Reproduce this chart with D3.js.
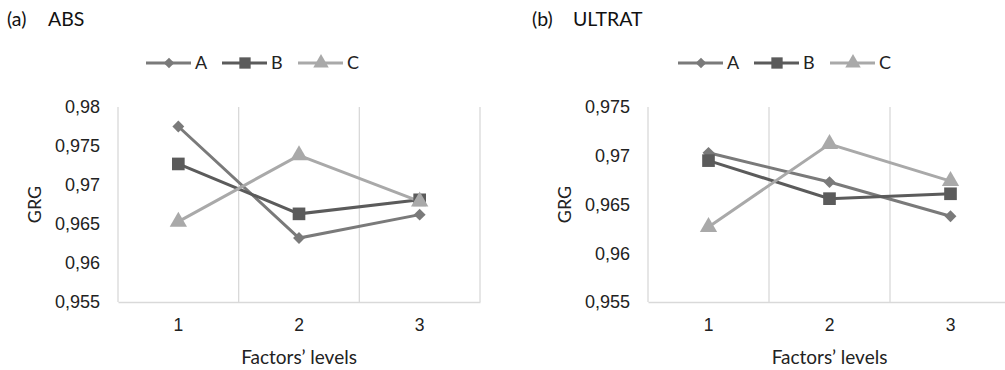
<!DOCTYPE html>
<html>
<head>
<meta charset="utf-8">
<script src="https://cdn.jsdelivr.net/npm/d3@7"></script>
<style>
    body { margin: 0; background: #fff; }
    svg { display: block; font-family: Lato, "Open Sans", sans-serif; }
</style>
</head>
<body>
<div id="chart"></div>
<script>
const levels = ['1', '2', '3'];
const seriesNames = ['A', 'B', 'C'];

// panel (a) ABS
const absA = [0.9775, 0.9632, 0.9662];
const absB = [0.9727, 0.9663, 0.9681];
const absC = [0.9653, 0.9738, 0.9679];
const absTicks = [0.955, 0.96, 0.965, 0.97, 0.975, 0.98];

// panel (b) ULTRAT
const ultA = [0.9703, 0.9673, 0.9638];
const ultB = [0.9695, 0.9656, 0.9661];
const ultC = [0.9627, 0.9712, 0.9674];
const ultTicks = [0.955, 0.96, 0.965, 0.97, 0.975];

const colors = { A: '#7a7a7a', B: '#5b5b5b', C: '#a9a9a9' };
const shapes = { A: d3.symbolDiamond2, B: d3.symbolSquare, C: d3.symbolTriangle };
const sizes = { A: 90, B: 160, C: 130 };

const svg = d3.select('#chart').append('svg')
    .attr('width', 1005)
    .attr('height', 370);

function drawPanel(opt) {
    const g = svg.append('g');
    const x = d3.scaleBand().domain(levels).range([opt.left, opt.right]);
    const y = d3.scaleLinear().domain([opt.ticks[0], opt.ticks[opt.ticks.length - 1]])
        .range([302, 107]);

    // title
    g.append('text').attr('x', opt.titleX).attr('y', 26)
        .style('font-size', '19.5px').attr('fill', '#111').text(opt.tag);
    g.append('text').attr('x', opt.titleX + 41).attr('y', 26)
        .style('font-size', '19.5px').attr('fill', '#111').text(opt.title);

    // vertical grid lines at category borders
    const borders = levels.map(l => x(l)).concat([opt.right]);
    g.selectAll('.grid').data(borders).enter().append('line')
        .attr('x1', d => d).attr('x2', d => d)
        .attr('y1', y.range()[1]).attr('y2', y.range()[0])
        .attr('stroke', '#d9d9d9').attr('stroke-width', 1.3);

    // x axis
    const xAxis = g.append('g').attr('transform', `translate(0,${y.range()[0]})`)
        .call(d3.axisBottom(x).tickSize(0).tickPadding(17));
    xAxis.select('.domain').attr('stroke', '#d9d9d9').attr('stroke-width', 1.5);
    xAxis.selectAll('text').style('font-size', '17.5px').attr('fill', '#222');

    // y axis
    const yAxis = g.append('g').attr('transform', `translate(${opt.left},0)`)
        .call(d3.axisLeft(y).tickValues(opt.ticks).tickSize(0).tickPadding(18)
            .tickFormat(d => d3.format('~g')(d).replace('.', ',')));
    yAxis.select('.domain').remove();
    yAxis.selectAll('text').style('font-size', '18px').attr('fill', '#222');

    g.append('text')
        .attr('transform', `translate(${opt.left - 83},${(y.range()[0] + y.range()[1]) / 2}) rotate(-90)`)
        .attr('text-anchor', 'middle').attr('dy', '0.35em')
        .style('font-size', '18px').attr('fill', '#222').text('GRG');

    g.append('text')
        .attr('x', (opt.left + opt.left + 3 * x.bandwidth()) / 2).attr('y', 364)
        .attr('text-anchor', 'middle')
        .style('font-size', '19px').attr('fill', '#222').text('Factors\u2019 levels');

    // series
    const line = d3.line().x((d, i) => x(levels[i]) + x.bandwidth() / 2).y(d => y(d));
    opt.series.forEach((vals, k) => {
        const name = seriesNames[k];
        g.append('path').datum(vals)
            .attr('d', line).attr('fill', 'none')
            .attr('stroke', colors[name]).attr('stroke-width', 3);
    });
    opt.series.forEach((vals, k) => {
        const name = seriesNames[k];
        g.selectAll('.pt' + name).data(vals).enter().append('path')
            .attr('transform', (d, i) => `translate(${x(levels[i]) + x.bandwidth() / 2},${y(d)})`)
            .attr('d', d3.symbol().type(shapes[name]).size(sizes[name]))
            .attr('fill', colors[name]);
    });

    // legend
    const legend = g.selectAll('.legend').data(seriesNames).enter().append('g')
        .attr('transform', (d, i) => `translate(${opt.legendX + i * 76},63)`);
    legend.append('line').attr('x1', 0).attr('x2', 45)
        .attr('stroke', d => colors[d]).attr('stroke-width', 3);
    legend.append('path').attr('transform', 'translate(23,0)')
        .attr('d', d => d3.symbol().type(shapes[d]).size(sizes[d] * 0.8)())
        .attr('fill', d => colors[d]);
    legend.append('text').attr('x', 49).attr('dy', '0.35em')
        .style('font-size', '18px').attr('fill', '#222').text(d => d);
}

drawPanel({
    tag: '(a)', title: 'ABS', titleX: 7,
    left: 118, right: 480, ticks: absTicks,
    series: [absA, absB, absC], legendX: 146
});

drawPanel({
    tag: '(b)', title: 'ULTRAT', titleX: 532,
    left: 648, right: 1011, ticks: ultTicks,
    series: [ultA, ultB, ultC], legendX: 678
});
</script>
</body>
</html>
